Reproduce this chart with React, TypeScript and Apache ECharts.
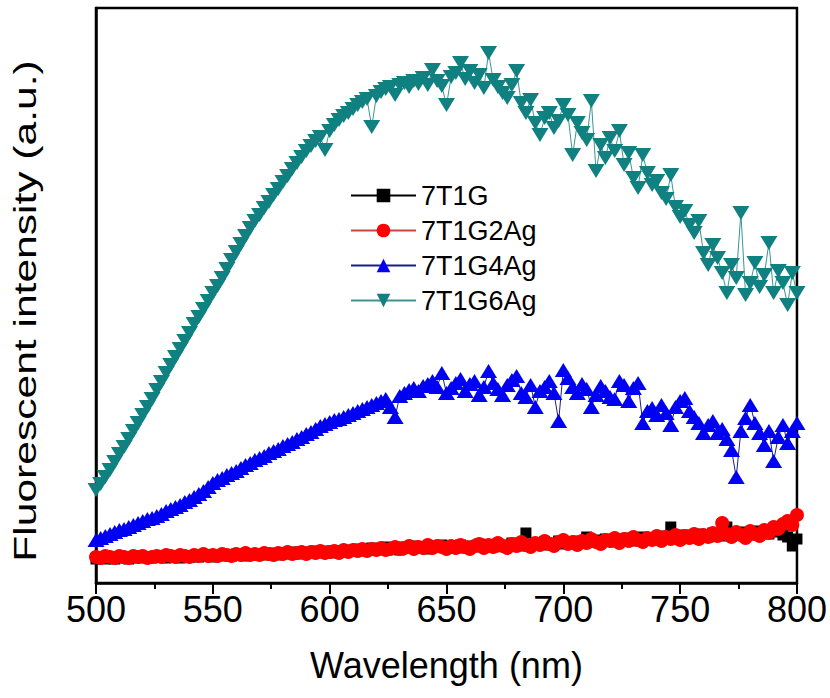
import React, { useEffect, useRef } from "react";
import * as echarts from "echarts";

const wavelengths = [
  500, 502, 504, 506, 508, 510, 512, 514, 516, 518,
  520, 522, 524, 526, 528, 530, 532, 534, 536, 538,
  540, 542, 544, 546, 548, 550, 552, 554, 556, 558,
  560, 562, 564, 566, 568, 570, 572, 574, 576, 578,
  580, 582, 584, 586, 588, 590, 592, 594, 596, 598,
  600, 602, 604, 606, 608, 610, 612, 614, 616, 618,
  620, 622, 624, 626, 628, 630, 632, 634, 636, 638,
  640, 642, 644, 646, 648, 650, 652, 654, 656, 658,
  660, 662, 664, 666, 668, 670, 672, 674, 676, 678,
  680, 682, 684, 686, 688, 690, 692, 694, 696, 698,
  700, 702, 704, 706, 708, 710, 712, 714, 716, 718,
  720, 722, 724, 726, 728, 730, 732, 734, 736, 738,
  740, 742, 744, 746, 748, 750, 752, 754, 756, 758,
  760, 762, 764, 766, 768, 770, 772, 774, 776, 778,
  780, 782, 784, 786, 788, 790, 792, 794, 796, 798,
  800,
];

const s7T1G = [
  24, 25, 24, 25, 24, 25, 26, 24, 25, 26,
  25, 26, 25, 27, 26, 25, 27, 26, 25, 27,
  26, 27, 26, 28, 27, 26, 28, 27, 28, 27,
  29, 28, 27, 29, 28, 29, 28, 30, 29, 28,
  30, 29, 31, 30, 29, 31, 30, 32, 30, 31,
  32, 30, 32, 31, 33, 32, 34, 32, 33, 35,
  33, 34, 36, 34, 35, 33, 36, 35, 37, 35,
  36, 34, 37, 36, 38, 35, 37, 36, 38, 35,
  37, 36, 39, 37, 38, 36, 39, 37, 38, 40,
  38, 37, 50, 38, 40, 39, 41, 38, 40, 42,
  39, 41, 40, 42, 40, 46, 41, 43, 40, 44,
  42, 41, 44, 43, 45, 42, 44, 46, 43, 45,
  44, 47, 45, 56, 46, 44, 48, 46, 45, 49,
  47, 46, 50, 48, 47, 56, 49, 48, 51, 49,
  50, 48, 52, 50, 49, 53, 51, 48, 46, 37,
  44,
];

const s7T1G2Ag = [
  26, 25, 27, 26, 25, 27, 26, 25, 27, 26,
  27, 25, 26, 27, 26, 28, 27, 26, 28, 27,
  26, 28, 27, 29, 27, 28, 27, 29, 28, 27,
  29, 28, 30, 28, 29, 28, 30, 29, 28, 30,
  29, 31, 29, 30, 31, 29, 31, 30, 32, 30,
  31, 32, 30, 33, 31, 33, 32, 34, 32, 34,
  33, 35, 33, 34, 36, 34, 35, 37, 34, 36,
  35, 38, 35, 37, 36, 34, 37, 35, 38, 36,
  34, 37, 39, 35, 38, 36, 40, 37, 35, 39,
  37, 41, 38, 36, 40, 38, 42, 39, 37, 41,
  43, 39, 41, 38, 42, 40, 44, 41, 39, 43,
  42, 45, 40, 44, 42, 46, 43, 41, 45, 43,
  47, 42, 46, 44, 48, 43, 47, 45, 49, 44,
  48, 46, 50, 47, 60, 49, 46, 51, 48, 45,
  52, 49, 47, 53, 50, 56, 54, 59, 62, 58,
  68,
];

const s7T1G4Ag = [
  43, 45, 47, 49, 51, 53, 54, 56, 58, 60,
  62, 64, 65, 67, 69, 72, 74, 76, 78, 81,
  83, 86, 89, 92, 96, 100, 103, 105, 108, 110,
  112, 115, 118, 120, 123, 125, 127, 130, 132, 134,
  137, 139, 141, 144, 146, 149, 151, 154, 157, 159,
  161, 163, 164, 166, 168, 170, 172, 174, 176, 178,
  180, 182, 184, 176, 166, 187, 190, 193, 195, 192,
  197, 199, 202, 196, 210, 190, 195, 200, 204, 192,
  199, 202, 188, 196, 212, 200, 194, 188, 198, 203,
  207, 190, 186, 198, 176, 192, 196, 202, 190, 162,
  213, 205, 196, 190, 199, 194, 176, 188, 197, 192,
  186, 184, 202, 198, 182, 195, 200, 160, 172, 175,
  168, 178, 170, 158, 176, 182, 185, 172, 166, 160,
  150, 158, 162, 150, 154, 144, 133, 106, 152, 165,
  178, 160, 150, 138, 152, 122, 146, 158, 140, 152,
  160,
];

const s7T1G6Ag = [
  93, 99, 106, 113, 121, 129, 136, 144, 152, 160,
  168, 176, 184, 193, 201, 210, 218, 226, 234, 242,
  250, 259, 266, 274, 282, 290, 297, 305, 314, 323,
  331, 339, 347, 355, 362, 368, 375, 381, 388, 394,
  401, 407, 414, 420, 426, 432, 437, 442, 446, 433,
  452, 458, 463, 467, 470, 474, 478, 481, 484, 456,
  487, 491, 494, 496, 488, 498, 500, 496, 502, 499,
  505, 498, 513, 502, 497, 478, 506, 510, 520, 504,
  512, 500, 508, 495, 530, 503, 496, 490, 485, 498,
  512, 480, 470, 483, 460, 448, 465, 470, 455, 462,
  478, 468, 428, 460, 450, 443, 482, 412, 438, 425,
  445, 432, 452, 418, 430, 405, 395, 428, 410, 398,
  402, 390, 384, 408, 376, 366, 372, 358, 350, 362,
  330, 318, 338, 325, 310, 290, 318, 305, 370, 288,
  300, 320, 296, 308, 340, 290, 312, 300, 278, 310,
  290,
];

const seriesNames = ["7T1G", "7T1G2Ag", "7T1G4Ag", "7T1G6Ag"];
const xTitle = "Wavelength (nm)";
const yTitle = "Fluorescent intensity (a.u.)";

const FONT = '"Liberation Sans", Arial, sans-serif';
const DOWN_TRIANGLE = "path://M0 0 L2 0 L1 1.73 Z";

export default function App() {
  const ref = useRef<HTMLDivElement>(null);

  useEffect(() => {
    if (!ref.current) return;
    const chart = echarts.init(ref.current, null, { renderer: "svg" });
    const pair = (vals: number[]) => wavelengths.map((w, i) => [w, vals[i]]);

    chart.setOption({
      animation: false,
      backgroundColor: "#ffffff",
      grid: {
        left: 96,
        right: 33,
        top: 8,
        bottom: 115,
        show: true,
        borderColor: "#000",
        borderWidth: 2.5,
        backgroundColor: "transparent",
      },
      xAxis: {
        type: "value",
        min: 500,
        max: 800,
        interval: 50,
        name: xTitle,
        nameLocation: "middle",
        nameGap: 64,
        nameTextStyle: { fontSize: 36, fontFamily: FONT, color: "#000" },
        axisLine: { lineStyle: { color: "#000", width: 2.5 } },
        axisTick: { length: 11, lineStyle: { color: "#000", width: 2 } },
        minorTick: { show: true, splitNumber: 2, length: 6, lineStyle: { color: "#000", width: 2 } },
        axisLabel: { fontSize: 36, fontFamily: FONT, color: "#000", margin: 8 },
        splitLine: { show: false },
        minorSplitLine: { show: false },
      },
      yAxis: {
        type: "value",
        min: 0,
        max: 575,
        axisLine: { show: true, lineStyle: { color: "#000", width: 2.5 } },
        axisTick: { show: false },
        axisLabel: { show: false },
        splitLine: { show: false },
      },
      legend: {
        data: seriesNames,
        orient: "vertical",
        left: 345,
        top: 176,
        itemWidth: 65,
        itemHeight: 17,
        itemGap: 6,
        textStyle: { fontSize: 27, fontFamily: FONT, color: "#000", lineHeight: 29 },
        selectedMode: false,
      },
      graphic: [
        {
          type: "text",
          x: 25,
          y: 311,
          rotation: Math.PI / 2,
          scaleX: 1.33,
          style: {
            text: yTitle,
            fontSize: 32,
            fontFamily: FONT,
            fill: "#000",
            align: "center",
            verticalAlign: "middle",
          },
        },
      ],
      series: [
        {
          name: seriesNames[0],
          type: "line",
          data: pair(s7T1G),
          symbol: "rect",
          symbolSize: 11,
          itemStyle: { color: "#000000" },
          lineStyle: { color: "#000000", width: 1 },
          silent: true,
        },
        {
          name: seriesNames[1],
          type: "line",
          data: pair(s7T1G2Ag),
          symbol: "circle",
          symbolSize: 14,
          itemStyle: { color: "#ff0000" },
          lineStyle: { color: "#c84646", width: 1 },
          silent: true,
        },
        {
          name: seriesNames[2],
          type: "line",
          data: pair(s7T1G4Ag),
          symbol: "triangle",
          symbolSize: [17, 14],
          itemStyle: { color: "#0000f5" },
          lineStyle: { color: "#1c1c8c", width: 1 },
          silent: true,
        },
        {
          name: seriesNames[3],
          type: "line",
          data: pair(s7T1G6Ag),
          symbol: DOWN_TRIANGLE,
          symbolSize: [17, 14],
          itemStyle: { color: "#108080" },
          lineStyle: { color: "#3c9494", width: 1 },
          silent: true,
        },
      ],
    });

    return () => chart.dispose();
  }, []);

  return (
    <div
      ref={ref}
      style={{ position: "fixed", left: 0, top: 0, width: 830, height: 698, background: "#fff" }}
    />
  );
}
